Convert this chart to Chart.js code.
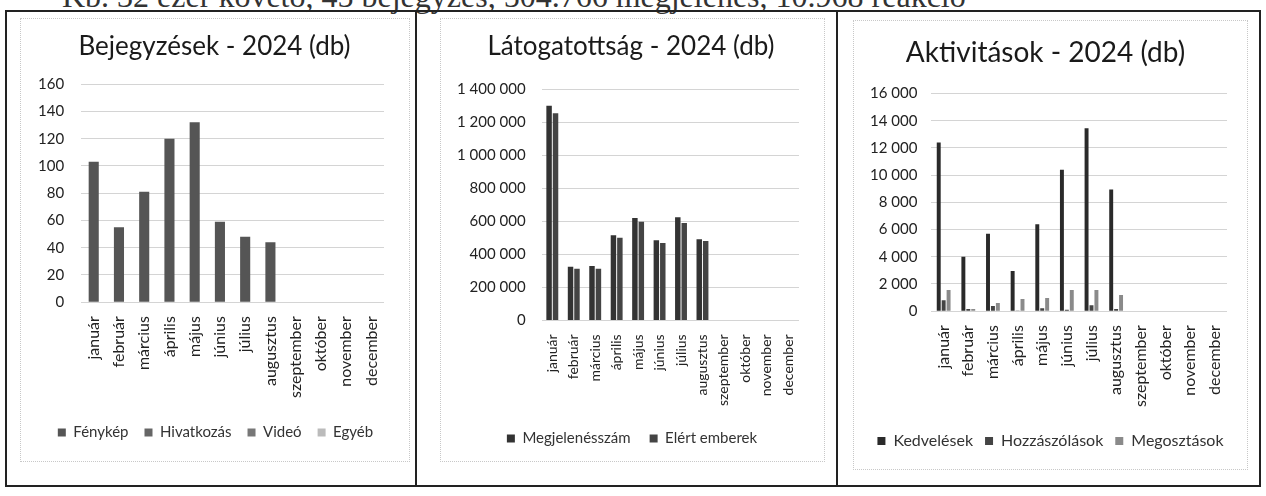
<!DOCTYPE html>
<html>
<head>
<meta charset="utf-8">
<script src="https://cdn.jsdelivr.net/npm/chart.js@4.4.1/dist/chart.umd.min.js"></script>
<style>
  body { margin: 0; background: #fff; width: 1266px; height: 496px; overflow: hidden; position: relative; }
  .topline { position: absolute; left: 62px; top: -20px; font: 32px "Liberation Serif", "DejaVu Serif", serif; color: #333; white-space: nowrap; line-height: 1; }
  .frame { position: absolute; left: 5px; top: 10px; width: 1256px; height: 477px; border: 2px solid #222; box-sizing: border-box; }
  .divider { position: absolute; top: 10px; width: 2px; height: 477px; background: #222; }
  .box { position: absolute; border: 1px dotted #c8c8c8; box-sizing: border-box; }
  .box canvas { position: absolute; left: 0; top: 0; }
</style>
</head>
<body>
<div class="topline">Kb. 32 ezer követő, 45 bejegyzés, 504.766 megjelenés, 10.968 reakció</div>
<div class="frame"></div>
<div class="divider" style="left:415px"></div>
<div class="divider" style="left:836px"></div>
<div class="box" style="left:20px;top:18px;width:390px;height:444px"><canvas id="c1"></canvas></div>
<div class="box" style="left:440px;top:18px;width:385px;height:444px"><canvas id="c2"></canvas></div>
<div class="box" style="left:853px;top:20px;width:395px;height:450px"><canvas id="c3"></canvas></div>
<script>
const months = ['január', 'február', 'március', 'április', 'május', 'június', 'július', 'augusztus', 'szeptember', 'október', 'november', 'december'];

// Bejegyzések
const fenykep = [103, 55, 81, 120, 132, 59, 48, 44, null, null, null, null];
const hivatkozas = [0, 0, 0, 0, 0, 0, 0, 0, null, null, null, null];
const video = [0, 0, 0, 0, 0, 0, 0, 0, null, null, null, null];
const egyeb = [0, 0, 0, 0, 0, 0, 0, 0, null, null, null, null];

// Látogatottság
const megjelenes = [1300000, 325000, 330000, 515000, 620000, 485000, 625000, 492000, null, null, null, null];
const elert = [1255000, 312000, 312000, 500000, 597000, 468000, 590000, 480000, null, null, null, null];

// Aktivitások
const kedvelesek = [12400, 4000, 5700, 2950, 6400, 10400, 13450, 8950, null, null, null, null];
const hozzaszolasok = [800, 150, 370, 50, 220, 100, 440, 150, null, null, null, null];
const megosztasok = [1550, 150, 600, 900, 960, 1550, 1550, 1180, null, null, null, null];

Chart.defaults.font.family = 'Lato, "Open Sans", sans-serif';
Chart.defaults.color = '#222';
Chart.defaults.animation = false;

// Excel centres title and legend on the whole chart box, not beside the y axis
const shiftBlocks = {
    id: 'shiftBlocks',
    afterLayout(chart, args, opts) {
        const t = chart.titleBlock;
        const l = chart.legend;
        if (t) { t.left += opts.title; t.right += opts.title; }
        if (l) { l.left += opts.legend; l.right += opts.legend; }
    }
};

function fmt(v) {
    return String(v).replace(/\B(?=(\d{3})+(?!\d))/g, ' ');
}

function makeChart(id, title, datasets, yMax, yStep, o) {
    const canvas = document.getElementById(id);
    const box = canvas.parentNode;
    canvas.width = box.clientWidth;
    canvas.height = box.clientHeight;
    return new Chart(canvas.getContext('2d'), {
        type: 'bar',
        data: { labels: months, datasets: datasets },
        plugins: [shiftBlocks],
        options: {
            responsive: false,
            layout: { padding: o.padding },
            datasets: {
                bar: { categoryPercentage: o.cat, barPercentage: o.bar }
            },
            scales: {
                x: {
                    stacked: !!o.stacked,
                    grid: { display: false },
                    border: { display: false },
                    afterFit: s => { s.height += o.xExtra; },
                    ticks: {
                        autoSkip: false,
                        minRotation: 90,
                        maxRotation: 90,
                        padding: 6,
                        font: { size: o.xFont },
                        color: '#222'
                    }
                },
                y: {
                    stacked: !!o.stacked,
                    min: 0,
                    max: yMax,
                    border: { display: false },
                    grid: { color: '#d4d4d4', drawTicks: false },
                    ticks: {
                        stepSize: yStep,
                        padding: o.yPad,
                        font: { size: o.yFont },
                        color: '#222',
                        callback: v => fmt(v)
                    }
                }
            },
            plugins: {
                shiftBlocks: { title: o.titleDx, legend: o.legendDx },
                title: {
                    display: true,
                    text: title,
                    color: '#1a1a1a',
                    font: { size: o.titleFont, weight: 'normal' },
                    padding: o.titlePad
                },
                legend: {
                    position: 'bottom',
                    labels: {
                        boxWidth: 8,
                        boxHeight: 8,
                        padding: o.legendGap,
                        color: '#333',
                        font: { size: o.legendFont }
                    }
                },
                tooltip: { enabled: false }
            }
        }
    });
}

makeChart('c1', 'Bejegyzések - 2024 (db)', [
    { label: 'Fénykép', data: fenykep, backgroundColor: '#555' },
    { label: 'Hivatkozás', data: hivatkozas, backgroundColor: '#666' },
    { label: 'Videó', data: video, backgroundColor: '#777' },
    { label: 'Egyéb', data: egyeb, backgroundColor: '#bbb' }
], 160, 20, {
    stacked: true, cat: 0.4, bar: 1,
    padding: { left: 0, right: 25, top: 0, bottom: 11 },
    titleFont: 26, titlePad: { top: 12, bottom: 22 },
    titleDx: 12, legendDx: 13, xExtra: 5,
    xFont: 16, yFont: 15, yPad: 17, legendFont: 15, legendGap: 16
});

makeChart('c2', 'Látogatottság - 2024 (db)', [
    { label: 'Megjelenésszám', data: megjelenes, backgroundColor: '#333' },
    { label: 'Elért emberek', data: elert, backgroundColor: '#444' }
], 1400000, 200000, {
    cat: 0.6, bar: 0.85,
    padding: { left: 0, right: 25, top: 0, bottom: 5 },
    titleFont: 26, titlePad: { top: 12, bottom: 27 },
    titleDx: 11, legendDx: 12, xExtra: 0,
    xFont: 14, yFont: 15, yPad: 16, legendFont: 15, legendGap: 19
});

makeChart('c3', 'Aktivitások - 2024 (db)', [
    { label: 'Kedvelések', data: kedvelesek, backgroundColor: '#2a2a2a' },
    { label: 'Hozzászólások', data: hozzaszolasok, backgroundColor: '#444' },
    { label: 'Megosztások', data: megosztasok, backgroundColor: '#8a8a8a' }
], 16000, 2000, {
    cat: 0.6, bar: 0.8,
    padding: { left: 2, right: 20, top: 0, bottom: 10 },
    titleFont: 28, titlePad: { top: 15, bottom: 24 },
    titleDx: 4, legendDx: 9, xExtra: 8,
    xFont: 16, yFont: 15, yPad: 14, legendFont: 16, legendGap: 12
});
</script>
</body>
</html>
